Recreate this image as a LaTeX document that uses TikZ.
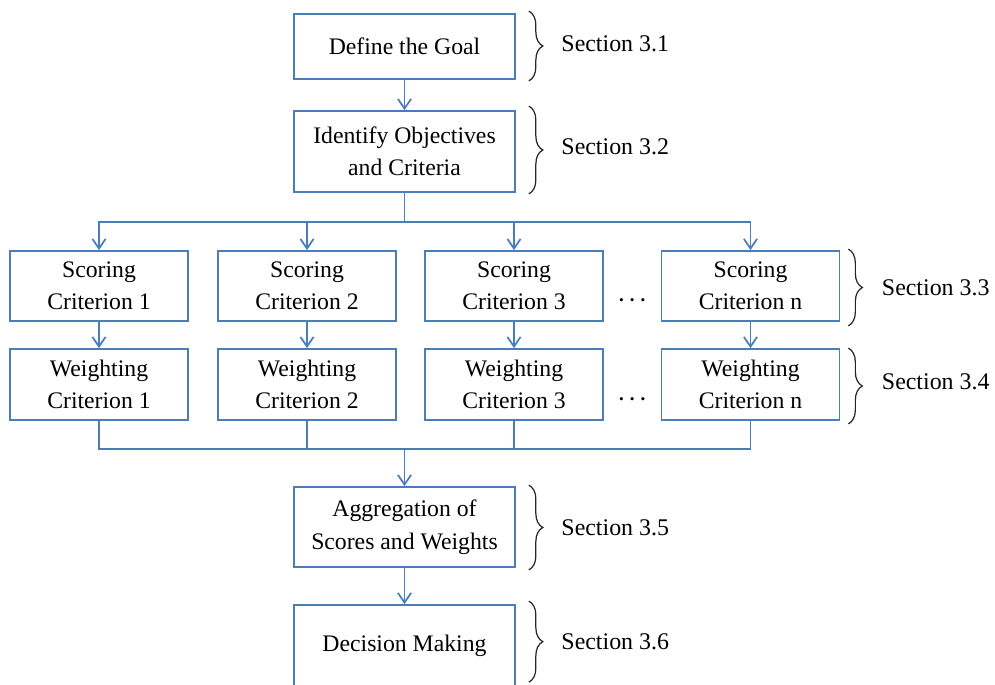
\documentclass[tikz,border=0pt]{standalone}
\usepackage{fontspec}
\setmainfont{Liberation Serif}
\usetikzlibrary{arrows.meta, calc, decorations.pathreplacing}
\definecolor{flowBlue}{RGB}{74,126,187}

\begin{document}
\begin{tikzpicture}[x=0.02cm, y=-0.02cm,
    stepBox/.style={draw=flowBlue, line width=1pt, fill=white, align=center, inner sep=0pt,
        font=\fontsize{13.5}{18.5}\selectfont},
    wideBox/.style={stepBox, minimum width=4.42cm},
    critBox/.style={stepBox, minimum width=3.56cm},
    flowLine/.style={draw=flowBlue, line width=1pt},
    flowArrow/.style={flowLine, -{Straight Barb[length=5.5pt, width=7.5pt, line width=1pt]}},
    moreDots/.style={inner sep=0pt, font=\fontsize{12}{14}\selectfont\boldmath},
    secBrace/.style={draw=black!85, line width=0.7pt, decorate, decoration={brace, amplitude=0.28cm}},
    secLabel/.style={anchor=west, inner sep=0pt, font=\fontsize{13.6}{16}\selectfont}]

%%Parameters
%% positions in pixels from the top left, can be modified
\def\colMid{404.5}
\def\rowScore{286}
\def\rowWeight{384.5}

\clip (0,0) rectangle (995,684);

    %% main column
    \node[wideBox, minimum height=1.3cm] (goal) at (\colMid, 46.5) {Define the Goal};
    \node[wideBox, minimum height=1.62cm] (objCrit) at (\colMid, 151.5) {Identify Objectives\\and Criteria};

        \draw[flowArrow] (goal) -- (objCrit);

    %% ***scoring row***
    \node[critBox, minimum height=1.4cm] (scoreC1) at (99, \rowScore) {Scoring\\Criterion 1};
    \node[critBox, minimum height=1.4cm] (scoreC2) at (307, \rowScore) {Scoring\\Criterion 2};
    \node[critBox, minimum height=1.4cm] (scoreC3) at (514, \rowScore) {Scoring\\Criterion 3};
    \node[critBox, minimum height=1.4cm] (scoreCn) at (750.5, \rowScore) {Scoring\\Criterion n};

    \node[moreDots] (dotsScore) at ($(scoreC3.east)!0.5!(scoreCn.west) + (0, 14)$) {$\cdots$};

    %% ***weighting row***
    \node[critBox, minimum height=1.42cm] (weightC1) at (99, \rowWeight) {Weighting\\Criterion 1};
    \node[critBox, minimum height=1.42cm] (weightC2) at (307, \rowWeight) {Weighting\\Criterion 2};
    \node[critBox, minimum height=1.42cm] (weightC3) at (514, \rowWeight) {Weighting\\Criterion 3};
    \node[critBox, minimum height=1.42cm] (weightCn) at (750.5, \rowWeight) {Weighting\\Criterion n};

    \node[moreDots] (dotsWeight) at ($(weightC3.east)!0.5!(weightCn.west) + (0, 14.5)$) {$\cdots$};

    %% lower column
    \node[wideBox, minimum height=1.6cm] (aggSW) at (\colMid, 527) {Aggregation of\\Scores and Weights};
    \node[wideBox, minimum height=1.62cm] (decMaking) at (\colMid, 645.5) {Decision Making};

        \draw[flowArrow] (aggSW) -- (decMaking);

    %% split from objectives to the scoring boxes
    \coordinate (splitMid) at ($(objCrit.south) + (0, 29)$);

        \draw[flowLine] (objCrit.south) -- (splitMid);
        \draw[flowArrow] (splitMid) -| (scoreC1.north);
        \draw[flowArrow] (splitMid) -| (scoreC2.north);
        \draw[flowArrow] (splitMid) -| (scoreC3.north);
        \draw[flowArrow] (splitMid) -| (scoreCn.north);

    %% scoring to weighting
        \draw[flowArrow] (scoreC1) -- (weightC1);
        \draw[flowArrow] (scoreC2) -- (weightC2);
        \draw[flowArrow] (scoreC3) -- (weightC3);
        \draw[flowArrow] (scoreCn) -- (weightCn);

    %% join of the weighting boxes into the aggregation
    \coordinate (joinMid) at ($(aggSW.north) + (0, -37)$);

        \draw[flowLine] (weightC1.south) |- (joinMid);
        \draw[flowLine] (weightC2.south) |- (joinMid);
        \draw[flowLine] (weightC3.south) |- (joinMid);
        \draw[flowLine] (weightCn.south) |- (joinMid);
        \draw[flowArrow] (joinMid) -- (aggSW.north);

    %% section braces
    \draw[secBrace] ($(goal.north east) + (13, -2)$) -- ($(goal.south east) + (13, 1)$)
        node[secLabel, midway, xshift=0.64cm, yshift=0.04cm] (secGoal) {Section 3.1};
    \draw[secBrace] ($(objCrit.north east) + (13, -4)$) -- ($(objCrit.south east) + (13, 1)$)
        node[secLabel, midway, xshift=0.64cm, yshift=0.06cm] (secObj) {Section 3.2};
    \draw[secBrace] ($(scoreCn.north east) + (8, -1)$) -- ($(scoreCn.south east) + (8, 4)$)
        node[secLabel, midway, xshift=0.66cm] (secScore) {Section 3.3};
    \draw[secBrace] ($(weightCn.north east) + (8, 0)$) -- ($(weightCn.south east) + (8, 3)$)
        node[secLabel, midway, xshift=0.66cm, yshift=0.08cm] (secWeight) {Section 3.4};
    \draw[secBrace] ($(aggSW.north east) + (13, -1)$) -- ($(aggSW.south east) + (13, 2)$)
        node[secLabel, midway, xshift=0.64cm] (secAgg) {Section 3.5};
    \draw[secBrace] ($(decMaking.north east) + (13, -3)$) -- ($(decMaking.north east) + (13, 78)$)
        node[secLabel, midway, xshift=0.64cm] (secDec) {Section 3.6};

\end{tikzpicture}
\end{document}
